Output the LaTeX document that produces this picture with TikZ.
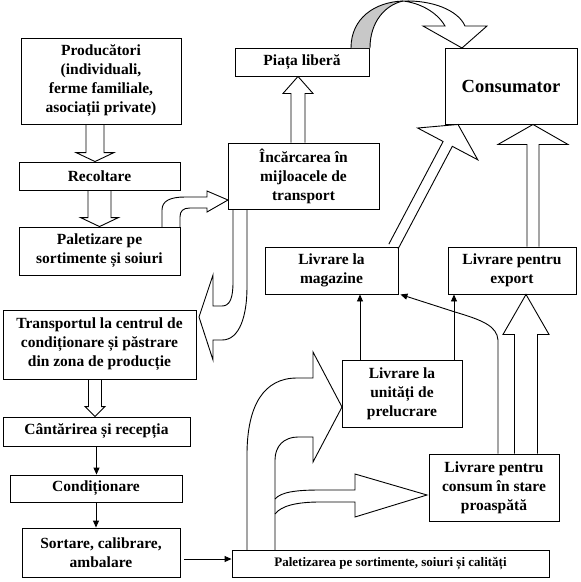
\documentclass[tikz,border=0pt]{standalone}
\usepackage{fontspec}
\setmainfont{Liberation Serif}
\usetikzlibrary{calc, positioning, arrows.meta}
\definecolor{ribbongray}{HTML}{C8C8C8}

\tikzset{
  stage/.style={draw, line width=0.9pt, inner sep=0pt, align=center,
    font=\bfseries\fontsize{15.5}{19}\selectfont},
  hollow/.style={draw, line width=0.9pt, line join=miter},
  thinarrow/.style={draw, line width=0.9pt, -{Triangle[length=7pt,width=6pt]}}
}

% straight hollow arrow: start, tip, half shaft, half head, head length
\newcommand{\blockarrow}[5]{%
  \coordinate (ba) at ($(#2)!#5!(#1)$);
  \draw[hollow] ($(#1)!#3!90:(#2)$) -- ($(ba)!#3!90:(#2)$) -- ($(ba)!#4!90:(#2)$) -- (#2)
    -- ($(ba)!#4!-90:(#2)$) -- ($(ba)!#3!-90:(#2)$) -- ($(#1)!#3!-90:(#2)$);
}

\begin{document}
\begin{tikzpicture}[x=1pt, y=-1pt]
  \useasboundingbox (0,0) rectangle (581,582);

  % left column
  \node[stage, minimum width=160pt, minimum height=86pt] (prod) at (101,81)
    {Producători\\(individuali,\\ferme familiale,\\asociații private)};
  \node[stage, minimum width=161pt, minimum height=28pt] (recolt) at (99.5,176) {Recoltare};
  \node[stage, minimum width=161pt, minimum height=48pt] (palet) at (99.5,251)
    {Paletizare pe\\sortimente și soiuri};
  \node[stage, minimum width=193pt, minimum height=69pt] (transp) at (99.5,344.5)
    {Transportul la centrul de\\condiționare și păstrare\\din zona de producție};
  \node[stage, minimum width=187pt, minimum height=29pt] (cantar) at (96.5,431.5)
    {Cântărirea și recepția};
  \node[stage, minimum width=172pt, minimum height=27pt] (condit) at (96,488.5) {Condiționare};
  \node[stage, minimum width=158pt, minimum height=49pt] (sortare) at (101,552.5)
    {Sortare, calibrare,\\ambalare};

  % middle and right
  \node[stage, minimum width=134pt, minimum height=28pt] (piata) at (302,62) {Piața liberă};
  \node[stage, minimum width=151pt, minimum height=66pt] (incarc) at (303.5,176)
    {Încărcarea în\\mijloacele de\\transport};
  \node[stage, minimum width=132pt, minimum height=76pt,
    font=\bfseries\fontsize{18.5}{22}\selectfont] (consum) at (511,86) {Consumator};
  \node[stage, minimum width=133pt, minimum height=47pt] (magaz) at (331.5,270.5)
    {Livrare la\\magazine};
  \node[stage, minimum width=128pt, minimum height=47pt] (export) at (512,270.5)
    {Livrare pentru\\export};
  \node[stage, minimum width=120pt, minimum height=67pt] (unitati) at (402,393.5)
    {Livrare la\\unități de\\prelucrare};
  \node[stage, minimum width=130pt, minimum height=67pt] (proasp) at (494,487.5)
    {Livrare pentru\\consum în stare\\proaspătă};
  \node[stage, minimum width=317pt, minimum height=27pt,
    font=\bfseries\fontsize{13}{15}\selectfont] (paletsc) at (390.5,563.5)
    {Paletizarea pe sortimente, soiuri și calități};

  % straight hollow arrows
  \coordinate (a1s) at ([xshift=-6pt]prod.south);
  \coordinate (a1e) at (a1s |- recolt.north);
  \blockarrow{a1s}{a1e}{9pt}{19pt}{9pt}
  \blockarrow{recolt.south}{palet.north}{11.5pt}{19pt}{9pt}
  \coordinate (a3s) at ([xshift=-5.5pt]incarc.north);
  \coordinate (a3e) at (a3s |- piata.south);
  \blockarrow{a3s}{a3e}{7pt}{15pt}{17pt}
  \coordinate (a4s) at ([xshift=21pt]export.north);
  \coordinate (a4e) at (a4s |- consum.south);
  \blockarrow{a4s}{a4e}{6pt}{35pt}{20pt}
  \coordinate (a5s) at ([xshift=32pt]proasp.north);
  \coordinate (a5e) at (a5s |- export.south);
  \blockarrow{a5s}{a5e}{11.5pt}{23pt}{40pt}
  \coordinate (a6s) at ([xshift=-4.5pt]transp.south);
  \coordinate (a6e) at (a6s |- cantar.north);
  \blockarrow{a6s}{a6e}{6.5pt}{10pt}{10pt}
  \coordinate (a7s) at ([xshift=-5pt]magaz.north east);
  \coordinate (a7e) at ([xshift=-53pt]consum.south);
  \blockarrow{a7s}{a7e}{5.2pt}{34pt}{22pt}

  % curved hollow arrows
  \draw[hollow] (162,227) -- (162,210) .. controls (162,201) and (170,197) .. (185,197)
    -- (207,197) -- (207,191) -- (228,200) -- (207,212) -- (207,208) -- (190,208)
    .. controls (183,208) and (180,211) .. (180,217) -- (180,227);
  \draw[hollow] (233,209) -- (233,282) .. controls (233,298) and (230,306) .. (222,306)
    -- (213,306) -- (213,275) -- (199,317) -- (213,360) -- (213,340) -- (222,340)
    .. controls (240,340) and (247,315) .. (247,287) -- (247,209);
  \draw[hollow] (247,550) -- (247,455) .. controls (247,405) and (264,378) .. (297,378)
    -- (313,378) -- (313,352) -- (342,407) -- (313,462) -- (313,437) -- (298,437)
    .. controls (284,437) and (275,446) .. (275,460) -- (275,550);
  \draw[hollow] (275,499) .. controls (281,492) and (296,490) .. (320,490) -- (355,490)
    -- (355,474) -- (427,495) -- (355,517) -- (355,502) -- (320,502)
    .. controls (296,502) and (281,506) .. (275,514);

  % ribbon arrow to the consumer
  \fill[ribbongray] (351,48) .. controls (351,18) and (375,2) .. (403,1)
    .. controls (385,5) and (370,22) .. (370,48) -- cycle;
  \draw[hollow] (351,48) .. controls (351,18) and (375,2) .. (403,1)
    .. controls (432,0) and (458,10) .. (465,26) -- (487,26) -- (462,48) -- (423,26)
    -- (445,26) .. controls (437,12) and (420,3) .. (403,1);
  \draw[hollow] (370,48) .. controls (370,22) and (385,5) .. (403,1);

  % thin arrows
  \draw[thinarrow] (cantar.south) -- (cantar.south |- condit.north);
  \draw[thinarrow] (condit.south) -- (condit.south |- sortare.north);
  \coordinate (t1) at ([xshift=4pt,yshift=-6.5pt]sortare.east);
  \draw[thinarrow] (t1) -- (t1 -| paletsc.west);
  \coordinate (t2) at ([xshift=-42pt]unitati.north);
  \draw[thinarrow] (t2) -- (t2 |- magaz.south);
  \coordinate (t3) at ([xshift=52pt]unitati.north);
  \draw[thinarrow] (t3) -- (t3 |- export.south);
  \coordinate (t4) at ([xshift=4pt]proasp.north);
  \draw[thinarrow] (t4) -- (498,340) .. controls (497,326) and (482,320) .. (455,312)
    -- ([xshift=2pt]magaz.south east);
\end{tikzpicture}
\end{document}
